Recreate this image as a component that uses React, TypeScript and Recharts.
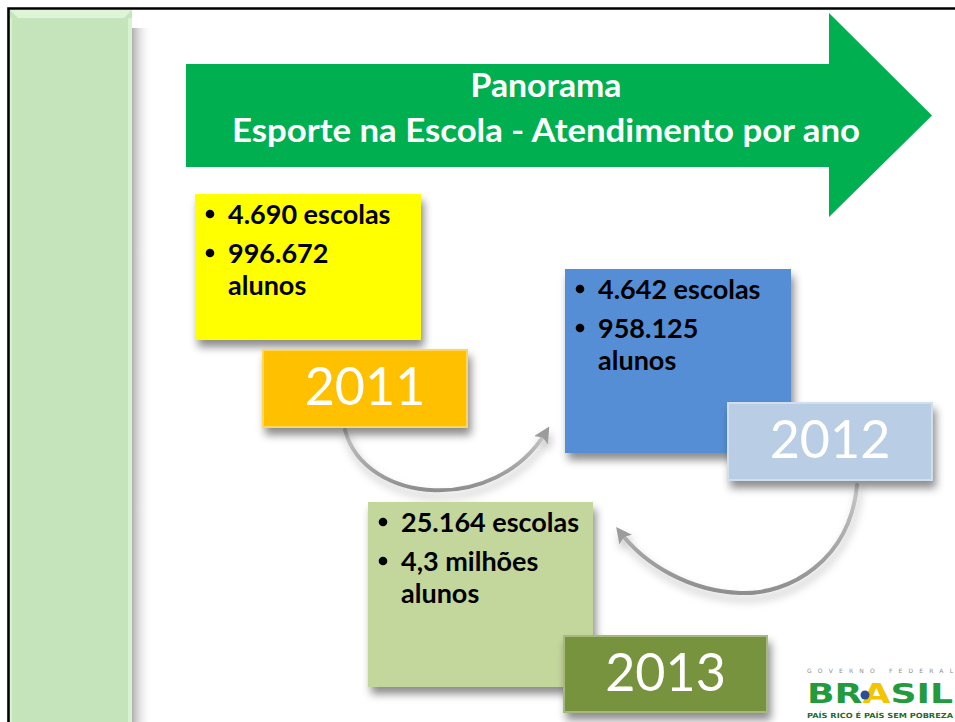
import { ScatterChart, Scatter, XAxis, YAxis, ReferenceArea } from 'recharts'

// slide content
const titleLines = ['Panorama', 'Esporte na Escola - Atendimento por ano']
const years = ['2011', '2012', '2013']
const escolas = ['4.690 escolas', '4.642 escolas', '25.164 escolas']
const alunosNum = ['996.672', '958.125', '4,3 milhões']
const alunosWord = ['alunos', 'alunos', 'alunos']
const logoLines = ['GOVERNO FEDERAL', 'BRASIL', 'PAÍS RICO É PAÍS SEM POBREZA']

// layout (slide pixels) and colours, kept apart from the content
const W = 955
const H = 722
const cardLayout = [
  { x: 195, y: 194, w: 226, h: 146, dx: 67, dy: 155, lw: 206, lh: 79, fill: '#FFFF00', labelFill: '#FFC000' },
  { x: 565, y: 269, w: 226, h: 184, dx: 162, dy: 133, lw: 206, lh: 79, fill: '#558ED5', labelFill: '#B9CDE5' },
  { x: 368, y: 502, w: 225, h: 185, dx: 195, dy: 133, lw: 205, lh: 78, fill: '#C3D69B', labelFill: '#77933C' },
]
const titleWidths = [151, 628]

const cards = years.map((year, i) => ({
  year,
  escolas: escolas[i],
  alunosNum: alunosNum[i],
  alunosWord: alunosWord[i],
  x: cardLayout[i].x,
  y: cardLayout[i].y,
  i,
}))

const bodyFont = 'Lato, "Noto Sans", sans-serif'

function Defs() {
  return (
    <defs>
      <filter id='boxShadow' x='-20%' y='-20%' width='150%' height='160%'>
        <feDropShadow dx='3' dy='7' stdDeviation='4' floodColor='#000' floodOpacity='0.45' />
      </filter>
      <filter id='arcShadow' x='-20%' y='-20%' width='150%' height='180%'>
        <feDropShadow dx='2' dy='6' stdDeviation='4' floodColor='#000' floodOpacity='0.25' />
      </filter>
      <linearGradient id='barShade' x1='0' y1='0' x2='1' y2='0'>
        <stop offset='0' stopColor='#AFAFAF' />
        <stop offset='1' stopColor='#FFFFFF' stopOpacity='0' />
      </linearGradient>
      <linearGradient id='arcStroke' x1='0' y1='0' x2='0' y2='1'>
        <stop offset='0' stopColor='#C8C8C8' />
        <stop offset='1' stopColor='#8E8E8E' />
      </linearGradient>
      <marker id='arcHead' viewBox='0 0 10 10' refX='6' refY='5' markerWidth='4' markerHeight='4' orient='auto'>
        <path d='M0,0 L10,5 L0,10 L2,5 z' fill='#9C9C9C' />
      </marker>
    </defs>
  )
}

function SideBar(props: any) {
  const { x, y, width, height } = props
  return (
    <g>
      <Defs />
      <rect x={x + width} y={y + 18} width={20} height={height} fill='url(#barShade)' />
      <rect x={x} y={y} width={width} height={height} fill='#C5E4BC' />
      <polygon
        points={`${x},${y} ${x + width},${y} ${x + width - 8},${y + 8} ${x + 8},${y + 8}`}
        fill='#DDF5D6'
      />
      <rect x={x + width - 4} y={y + 8} width={4} height={height - 8} fill='#D6F2CE' />
      <rect x={x} y={y + 8} width={2} height={height - 8} fill='#D6F2CE' />
      <polyline
        points={`${x - 1.5},${H + 5} ${x - 1.5},${y - 1.5} ${W + 5},${y - 1.5}`}
        fill='none'
        stroke='#000'
        strokeWidth={2.6}
      />
    </g>
  )
}

function TitleArrow(props: any) {
  const { x, y, width, height } = props
  const headX = x + width
  const midY = y + height / 2
  return (
    <g>
      <polygon
        points={`${x},${y} ${headX},${y} ${headX},${y - 51} ${headX + 103},${midY} ${headX},${y + height + 50} ${headX},${y + height} ${x},${y + height}`}
        fill='#00B050'
      />
      {titleLines.map((t, i) => (
        <text
          key={t}
          x={546}
          y={y + 33 + i * 45}
          textAnchor='middle'
          fill='#fff'
          fontFamily={bodyFont}
          fontWeight={700}
          fontSize={33}
          textLength={titleWidths[i]}
          lengthAdjust='spacingAndGlyphs'
        >
          {t}
        </text>
      ))}
    </g>
  )
}

function ArcOne(props: any) {
  const { x, y, width: w } = props
  return (
    <path
      d={`M${x},${y} C${x + 20},${y + 75} ${x + w - 50},${y + 85} ${x + w},${y + 2}`}
      fill='none'
      stroke='url(#arcStroke)'
      strokeWidth={4}
      strokeLinecap='round'
      markerEnd='url(#arcHead)'
      filter='url(#arcShadow)'
    />
  )
}

function ArcTwo(props: any) {
  const { x, y, width: w, height: h } = props
  return (
    <path
      d={`M${x + w},${y} C${x + w - 7},${y + 75} ${x + w - 67},${y + h + 3} ${x + 120},${y + h + 1} C${x + 70},${y + h - 1} ${x + 25},${y + 80} ${x},${y + 47}`}
      fill='none'
      stroke='url(#arcStroke)'
      strokeWidth={4}
      strokeLinecap='round'
      markerEnd='url(#arcHead)'
      filter='url(#arcShadow)'
    />
  )
}

function Logo(props: any) {
  const { x, y, width } = props
  return (
    <g>
      <text x={x} y={y + 7} fontFamily='"DejaVu Sans", sans-serif' fontSize={6} fill='#8C8C8C' textLength={width} lengthAdjust='spacing'>
        {logoLines[0]}
      </text>
      <text
        x={x}
        y={y + 37}
        fontFamily='"DejaVu Sans", sans-serif'
        fontWeight={700}
        fontSize={26}
        fill='#239B3C'
        textLength={width}
        lengthAdjust='spacingAndGlyphs'
      >
        {logoLines[1].slice(0, 2)}
        <tspan fill='#F2C500'>{logoLines[1].slice(2, 3)}</tspan>
        {logoLines[1].slice(3)}
      </text>
      <circle cx={x + 58} cy={y + 29} r={4.5} fill='#2A4D9B' />
      <text x={x} y={y + 52} fontFamily='"DejaVu Sans", sans-serif' fontWeight={700} fontSize={7} fill='#1E6B2E' textLength={width} lengthAdjust='spacingAndGlyphs'>
        {logoLines[2]}
      </text>
    </g>
  )
}

function Card(props: any) {
  const { cx, cy, payload } = props
  const l = cardLayout[payload.i]
  const lx = cx + l.dx
  const ly = cy + l.dy
  const textStyle = { fontFamily: bodyFont, fontWeight: 700, fontSize: 27, fill: '#000' }
  return (
    <g>
      <rect x={cx} y={cy} width={l.w} height={l.h} fill={l.fill} filter='url(#boxShadow)' />
      <circle cx={cx + 15} cy={cy + 20} r={4.3} fill='#000' />
      <text x={cx + 33} y={cy + 30} {...textStyle}>{payload.escolas}</text>
      <circle cx={cx + 15} cy={cy + 59} r={4.3} fill='#000' />
      <text x={cx + 33} y={cy + 69} {...textStyle}>{payload.alunosNum}</text>
      <text x={cx + 33} y={cy + 101} {...textStyle}>{payload.alunosWord}</text>
      <rect x={lx} y={ly} width={l.lw} height={l.lh} fill={l.labelFill} filter='url(#boxShadow)' />
      <rect x={lx + 1} y={ly + 1} width={l.lw - 2} height={l.lh - 2} fill='none' stroke='#ffffff' strokeOpacity={0.35} strokeWidth={2} />
      <text
        x={lx + l.lw / 2}
        y={ly + 56}
        textAnchor='middle'
        fill='#fff'
        fontFamily={bodyFont}
        fontSize={52}
      >
        {payload.year}
      </text>
    </g>
  )
}

export default function App() {
  return (
    <div style={{ position: 'absolute', left: 0, top: 0, background: '#fff' }}>
      <ScatterChart width={W} height={H} margin={{ top: 0, right: 0, bottom: 0, left: 0 }}>
        <XAxis type='number' dataKey='x' domain={[0, W]} hide />
        <YAxis type='number' dataKey='y' domain={[0, H]} reversed hide />
        <ReferenceArea x1={10} x2={132} y1={10} y2={H} shape={SideBar} ifOverflow='visible' />
        <ReferenceArea x1={186} x2={829} y1={64} y2={167} shape={TitleArrow} ifOverflow='visible' />
        <ReferenceArea x1={345} x2={546} y1={430} y2={490} shape={ArcOne} ifOverflow='visible' />
        <ReferenceArea x1={620} x2={857} y1={485} y2={592} shape={ArcTwo} ifOverflow='visible' />
        <ReferenceArea x1={807} x2={953} y1={666} y2={718} shape={Logo} ifOverflow='visible' />
        <Scatter data={cards} dataKey='y' shape={Card} isAnimationActive={false} />
      </ScatterChart>
    </div>
  )
}
